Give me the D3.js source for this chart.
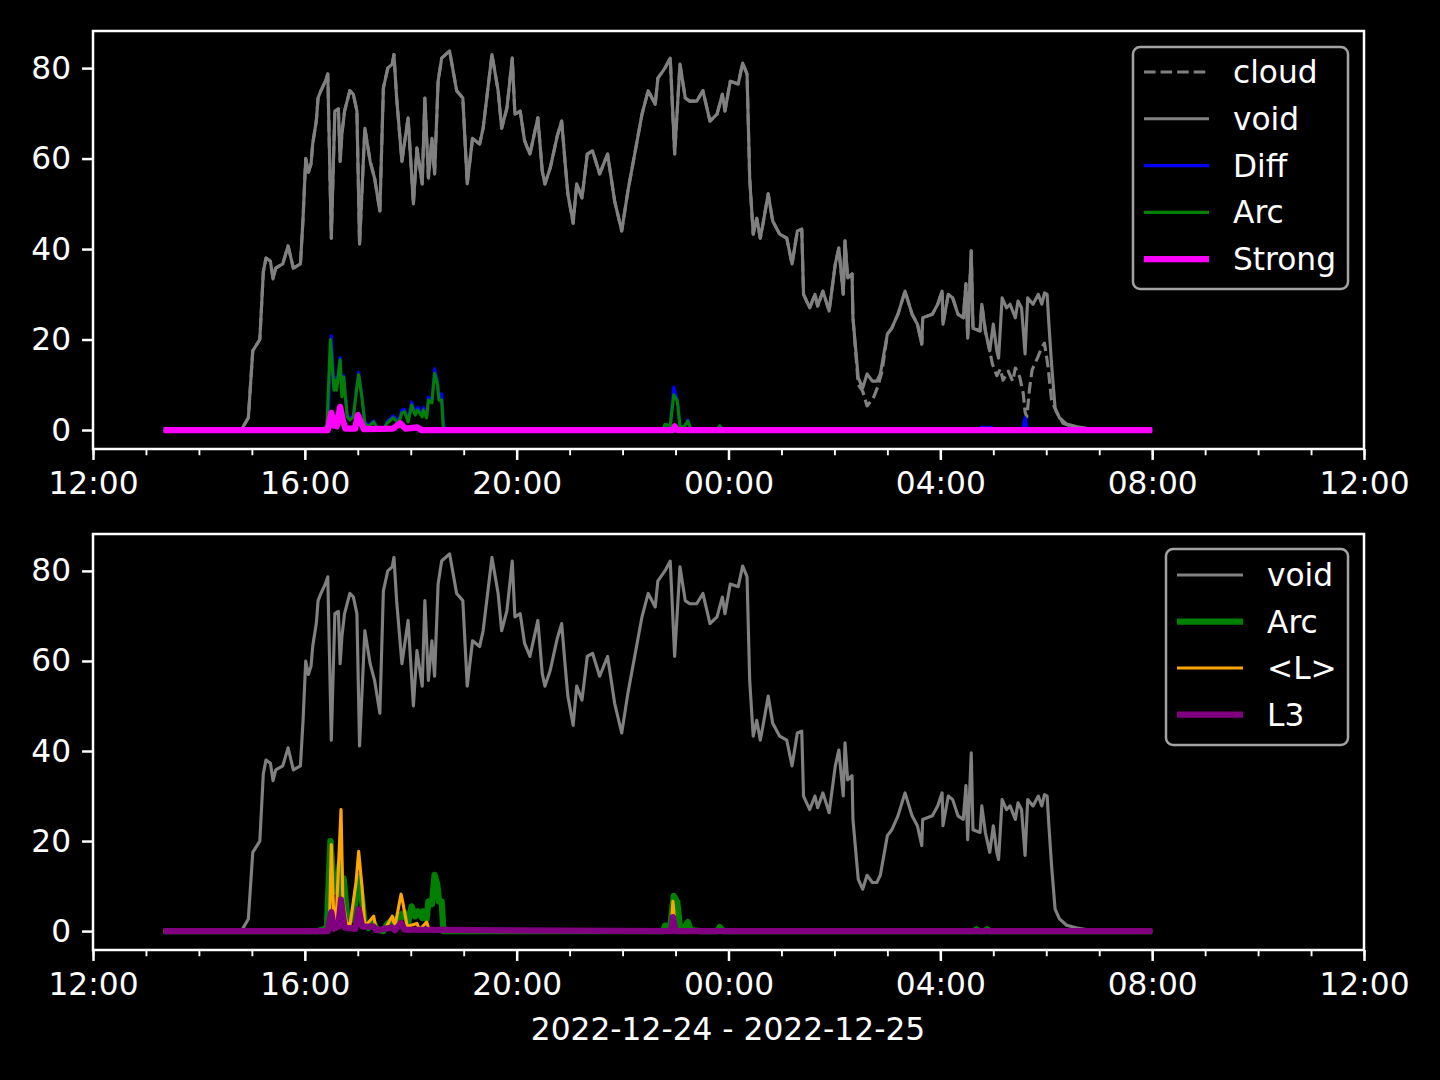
<!DOCTYPE html>
<html><head><meta charset="utf-8">
<script src="https://cdn.jsdelivr.net/npm/d3@7"></script>
<style>
body{margin:0;background:#000}
svg{display:block}
text{font-family:"DejaVu Sans",sans-serif;fill:#fff}
</style>
</head><body>
<svg id="chart" width="1440" height="1080"></svg>
<script>
// ---- data: [minutes after 2022-12-24 12:00, value] ----
const voidData = [[80,0],[168,0],[176,2.7],[181,17.5],[189,20],[193,35],[196,38],[201,37.3],[204,33.4],[207,35.8],[215,36.7],[221,40.7],[227,35.8],[235,36.7],[238,46.8],[241,60],[244,57],[247,58.8],[249,63.4],[253,68.3],[255,73.4],[258,74.9],[263,77],[266,78.7],[270,42.4],[274,70.5],[278,71],[280,59.4],[282,65.4],[285,70.5],[291,75],[295,74.2],[299,70.5],[302,41.1],[308,66.7],[314,59.4],[319,55.7],[325,48.4],[329,75.6],[334,80],[339,80.9],[341,83],[344,73.4],[350,59.4],[357,69],[363,50],[367,62.3],[373,54.4],[376,73.4],[380,55.7],[384,64.5],[387,56.6],[391,77.1],[395,82.2],[404,83.8],[412,75],[419,73.4],[424,54.4],[430,64.5],[438,63.2],[442,66.7],[452,83],[459,75],[463,66.7],[469,71.2],[475,82.2],[478,69.8],[484,70.5],[489,63.9],[495,61],[504,69],[509,57.2],[512,54.4],[518,57.9],[526,65],[531,68.3],[535,58.8],[538,52.2],[544,45.7],[548,54.4],[554,51.3],[560,61],[566,61.7],[574,56.6],[583,61],[591,50.6],[599,44],[606,52.8],[617,64.5],[622,69.8],[629,75],[637,72],[640,77.8],[648,80],[654,82.2],[659,61],[665,80.9],[671,73.4],[676,72.7],[684,72.7],[691,75],[699,68.3],[707,69.8],[713,74.2],[716,70.5],[722,77.1],[731,76.5],[736,81.1],[741,78.7],[744,55.7],[748,43.3],[752,46.8],[756,42.4],[759,45.5],[765,52.2],[770,46.2],[778,43.3],[786,42.4],[792,36.7],[798,44],[803,44.4],[805,30],[812,27],[818,30],[821,27.4],[827,30.7],[834,26.3],[841,36.7],[845,40.2],[850,30],[852,41.8],[855,33.6],[860,34.5],[861,24.8],[867,11.5],[872,9.3],[877,12.4],[883,10.8],[888,10.8],[892,12.4],[900,21.2],[905,22.5],[912,25.6],[920,30.7],[928,25.6],[934,23.4],[939,19],[940,24.8],[951,25.6],[957,27.8],[962,30.7],[963,23.4],[969,30],[974,29.2],[980,25.6],[986,24.8],[989,32.3],[991,20.3],[995,39.6],[997,22.5],[1005,21.9],[1007,27.8],[1011,21.9],[1016,17.5],[1020,23.4],[1024,17.5],[1026,15.9],[1030,29.2],[1035,27],[1039,27.8],[1045,24.8],[1048,28.5],[1052,27],[1056,16.8],[1059,29.2],[1065,27.8],[1071,30],[1075,27.8],[1078,30.3],[1081,30],[1083,23.4],[1086,14.6],[1090,4.9],[1095,2.7],[1103,1.3],[1115,0.7],[1130,0.2],[1200,0]];

// cloud follows void except in these two stretches
const cloudDip = [[867,10],[872,8.6],[877,5.3],[884,7],[889,9.5],[894,13]];
const cloudTail = [[1019,14.6],[1024,12],[1028,13.5],[1031,11],[1037,13],[1042,10.8],[1045,13.7],[1050,11.7],[1054,8],[1056,4],[1058,2.9],[1061,9],[1064,13.3],[1070,15.9],[1075,18.3],[1078,19.2],[1082,14],[1086,6.6],[1092,3.8],[1099,1.5],[1110,0.7],[1130,0.2],[1200,0]];

const diffData = [[80,0],[264,0],[266,0.5],[270,20.8],[273,9.5],[275,11.5],[276,9.5],[280,16],[282,8],[284,12],[288,3.3],[291,2.5],[295,3.3],[299,10],[301,12.7],[305,7],[308,1.8],[312,1],[318,2],[322,0.5],[329,0.2],[333,1.8],[340,3.1],[346,2],[350,4.4],[353,4.5],[357,2.2],[361,6.2],[365,3.8],[368,5],[373,3.3],[374,5],[378,3.1],[380,7.3],[384,6.6],[387,13.5],[390,11],[392,7.7],[395,8],[397,1.5],[399,0],[646,0],[648,1.2],[654,1],[658,9.5],[662,6.6],[665,1],[669,0.5],[674,2.2],[677,0.3],[688,0],[707,0],[710,0.9],[714,0],[1003,0],[1006,0.6],[1018,0.6],[1021,0],[1053,0],[1056,2.7],[1058,0.5],[1061,0],[1200,0]];

const arcData = [[80,0],[255,0],[263,0.5],[265,1],[269,20],[273,8.8],[275,11],[276,8.8],[280,15.5],[282,7.3],[284,11.7],[288,2.9],[291,2.2],[295,2.9],[299,9.5],[301,12.2],[305,6.6],[308,1.5],[312,0.7],[318,1.8],[322,0.3],[329,0],[333,1.5],[340,2.7],[346,1.5],[350,3.8],[353,4],[357,1.8],[361,5.5],[365,3.3],[368,4.4],[373,2.9],[374,4.4],[378,2.7],[380,6.6],[384,6],[387,12.5],[390,10.4],[392,6.6],[395,6.6],[397,0],[646,0],[648,1.2],[654,1],[658,7.8],[662,6.4],[665,0.9],[669,0.5],[674,2],[677,0.2],[688,0],[707,0],[710,0.9],[714,0],[998,0],[1001,0.4],[1004,0],[1010,0],[1013,0.4],[1016,0],[1200,0]];

const strongData = [[80,0],[266,0],[270,3.8],[273,1],[276,0.8],[280,5.1],[283,2.2],[286,0.3],[297,0.3],[300,3.3],[304,1.5],[307,0.2],[340,0.3],[348,1.5],[354,0.3],[367,0.6],[372,0],[657,0],[659,0.8],[662,0],[1200,0]];

const lavgData = [[80,0],[266,0],[268,2],[270,19.2],[273,2],[276,5],[281,27],[283,7],[287,2],[291,1.1],[298,10.8],[301,17.7],[305,9.3],[308,1],[318,3.3],[321,0.3],[331,0.5],[339,3.3],[342,1],[349,8.2],[351,6.4],[356,1],[367,1.7],[370,0.3],[378,2],[381,0.2],[654,0],[655,0.3],[657,6.6],[660,0.5],[663,0],[1200,0]];

const l3Data = [[80,0],[266,0],[270,4.2],[273,0.5],[278,1],[281,7],[285,0.8],[297,0.5],[301,4.9],[305,1],[318,1],[321,0.2],[339,0.8],[342,0.2],[349,1.8],[353,0.3],[655,0],[657,3.1],[660,0],[1200,0]];

const yTicks = [0, 20, 40, 60, 80];
const xLabel = "2022-12-24 - 2022-12-25";

// ---- build ----
const cloudData = voidData.filter(d => d[0] < 862)
  .concat(cloudDip)
  .concat(voidData.filter(d => d[0] > 896 && d[0] < 1017))
  .concat(cloudTail)
  .sort((a, b) => a[0] - b[0]);

const base = new Date(2022, 11, 24, 12, 0);
const T = m => d3.timeMinute.offset(base, m);
const svg = d3.select("#chart");
svg.append("rect").attr("width", 1440).attr("height", 1080).attr("fill", "#000");

const X0 = 93, X1 = 1364;
const x = d3.scaleTime().domain([T(0), T(1440)]).range([X0, X1]);
const PT = 225 / 72;          // px per point
const LW = 1 * PT;
const FS = 10 * PT;

function panel(top, bottom, series, legend, id) {
  const y = d3.scaleLinear().domain([-4.2, 88.2]).range([bottom, top]);
  const g = svg.append("g");
  g.append("clipPath").attr("id", "clip" + id).append("rect")
    .attr("x", X0).attr("y", top).attr("width", X1 - X0).attr("height", bottom - top);
  const line = d3.line().x(d => x(T(d[0]))).y(d => y(d[1]));
  const lg = g.append("g").attr("clip-path", `url(#clip${id})`);
  series.forEach(s => {
    lg.append("path").datum(s.data).attr("d", line)
      .attr("fill", "none").attr("stroke", s.color).attr("stroke-width", s.w)
      .attr("stroke-linejoin", "round")
      .attr("stroke-dasharray", s.dash || null);
  });
  // spines
  g.append("rect").attr("x", X0).attr("y", top).attr("width", X1 - X0).attr("height", bottom - top)
    .attr("fill", "none").attr("stroke", "#fff").attr("stroke-width", 0.8 * PT);

  // minor x ticks
  const minor = g.append("g").attr("transform", `translate(0,${bottom})`)
    .call(d3.axisBottom(x).ticks(d3.timeHour.every(1)).tickSize(2 * PT).tickFormat(""));
  minor.select(".domain").remove();
  minor.selectAll("line").attr("stroke", "#fff").attr("stroke-width", 0.6 * PT);
  // major x ticks
  const xa = g.append("g").attr("transform", `translate(0,${bottom})`)
    .call(d3.axisBottom(x).ticks(d3.timeHour.every(4)).tickFormat(d3.timeFormat("%H:%M"))
      .tickSize(3.5 * PT).tickPadding(11.9));
  xa.select(".domain").remove();
  xa.selectAll("line").attr("stroke", "#fff").attr("stroke-width", 0.8 * PT);
  xa.selectAll("text").attr("font-size", FS).attr("font-family", "DejaVu Sans").attr("fill", "#fff");

  // y ticks
  const ya = g.append("g").attr("transform", `translate(${X0},0)`)
    .call(d3.axisLeft(y).tickValues(yTicks).tickSize(3.5 * PT).tickPadding(3.5 * PT));
  ya.select(".domain").remove();
  ya.selectAll("line").attr("stroke", "#fff").attr("stroke-width", 0.8 * PT);
  ya.selectAll("text").attr("font-size", FS).attr("font-family", "DejaVu Sans").attr("fill", "#fff");

  // legend
  const L = legend;
  g.append("rect").attr("x", L.x).attr("y", L.y).attr("width", L.w).attr("height", L.h)
    .attr("rx", 7).attr("fill", "#000").attr("fill-opacity", 0.8)
    .attr("stroke", "#a3a3a3").attr("stroke-width", 2.5);
  series.forEach((s, i) => {
    const yy = L.y0 + i * L.step;
    g.append("line").attr("x1", L.hx1).attr("x2", L.hx2).attr("y1", yy).attr("y2", yy)
      .attr("stroke", s.color).attr("stroke-width", s.w).attr("stroke-dasharray", s.dash || null);
    g.append("text").attr("x", L.tx).attr("y", yy + 11).attr("font-size", FS).text(s.name);
  });
}

panel(31, 449, [
  {name: "cloud", data: cloudData, color: "#808080", w: LW, dash: `${3.7 * LW},${1.6 * LW}`},
  {name: "void", data: voidData, color: "#808080", w: LW},
  {name: "Diff", data: diffData, color: "#0000ff", w: LW},
  {name: "Arc", data: arcData, color: "#008000", w: LW},
  {name: "Strong", data: strongData, color: "#ff00ff", w: 2 * LW}
], {x: 1133, y: 47, w: 215, h: 242, y0: 72, step: 46.8, hx1: 1144, hx2: 1209, tx: 1233}, "a");

panel(534, 950, [
  {name: "void", data: voidData, color: "#808080", w: LW},
  {name: "Arc", data: arcData, color: "#008000", w: 2 * LW},
  {name: "<L>", data: lavgData, color: "#ffa500", w: LW},
  {name: "L3", data: l3Data, color: "#800080", w: 2 * LW}
], {x: 1166, y: 549, w: 182, h: 196, y0: 575, step: 46.5, hx1: 1177, hx2: 1243, tx: 1267}, "b");

svg.append("text").attr("x", 728).attr("y", 1040).attr("text-anchor", "middle")
  .attr("font-size", FS).text(xLabel);
</script>
</body></html>
